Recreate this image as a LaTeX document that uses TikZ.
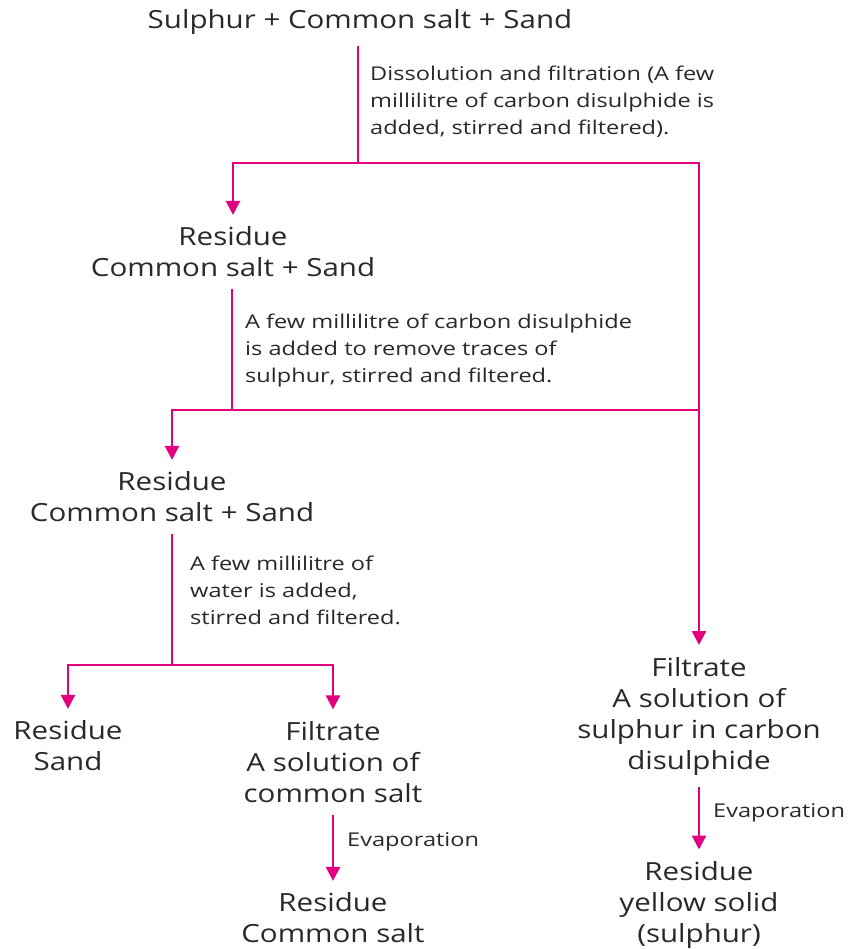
\documentclass[tikz,border=0pt]{standalone}
\usepackage{fontspec}
\setmainfont{Open Sans}
\newfontfamily\itemfont[FakeStretch=1.18]{Open Sans}
\newfontfamily\notefont[FakeStretch=1.24]{Open Sans}
\usetikzlibrary{arrows.meta}
\definecolor{flowpink}{RGB}{226,0,126}
\definecolor{ink}{RGB}{40,40,45}
\begin{document}
\begin{tikzpicture}[x=1pt,y=1pt,
  every node/.style={text=ink},
  item/.style={align=center,inner sep=0pt,outer ysep=12pt,
    font=\itemfont\fontsize{25}{31}\selectfont},
  note/.style={align=left,inner sep=0pt,anchor=west,
    font=\notefont\fontsize{19}{27}\selectfont},
  link/.style={draw=flowpink,line width=2.5pt},
  flow/.style={link,-{Triangle[length=14pt,width=14pt]}}]
\useasboundingbox (0,0) rectangle (852,-949);

% material at each stage
\node[item] (top)   at (360,-22)    {Sulphur + Common salt + Sand};
\node[item] (res1)  at (233,-252)   {Residue\\Common salt + Sand};
\node[item] (res2)  at (172,-497)   {Residue\\Common salt + Sand};
\node[item] (sand)  at (68,-746)    {Residue\\Sand};
\node[item] (filt1) at (333,-762)   {Filtrate\\A solution of\\common salt};
\node[item] (salt)  at (333,-918)   {Residue\\Common salt};
\node[item] (filt2) at (699,-716)   {Filtrate\\A solution of\\sulphur in carbon\\disulphide};
\node[item] (sulph) at (699,-905)   {Residue\\yellow solid\\(sulphur)};

% process notes
\node[note] (n1) at (370,-102) {Dissolution and filtration (A few\\millilitre of carbon disulphide is\\added, stirred and filtered).};
\node[note] (n2) at (245,-351) {A few millilitre of carbon disulphide\\is added to remove traces of\\sulphur, stirred and filtered.};
\node[note] (n3) at (190,-590) {A few millilitre of\\water is added,\\stirred and filtered.};
\node[note] (e1) at (347,-842) {Evaporation};
\node[note] (e2) at (713,-813) {Evaporation};

% branch points
\coordinate (j1) at (358,-163);
\coordinate (j2) at (232,-410);
\coordinate (j3) at (172,-665);

% connectors
\draw[link] (top.south -| j1) -- (j1);
\draw[flow] (j1) -| (res1.north);
\draw[flow] (j1) -| (filt2.north);

\draw[link] (res1.south -| j2) -- (j2);
\draw[flow] (j2) -| (res2.north);
\draw[link] (j2) -- (j2 -| filt2.north);

\draw[link] (res2.south -| j3) -- (j3);
\draw[flow] (j3) -| (sand.north);
\draw[flow] (j3) -| (filt1.north);

\draw[flow] (filt1.south) -- (salt.north);
\draw[flow] (filt2.south) -- (sulph.north);
\end{tikzpicture}
\end{document}
